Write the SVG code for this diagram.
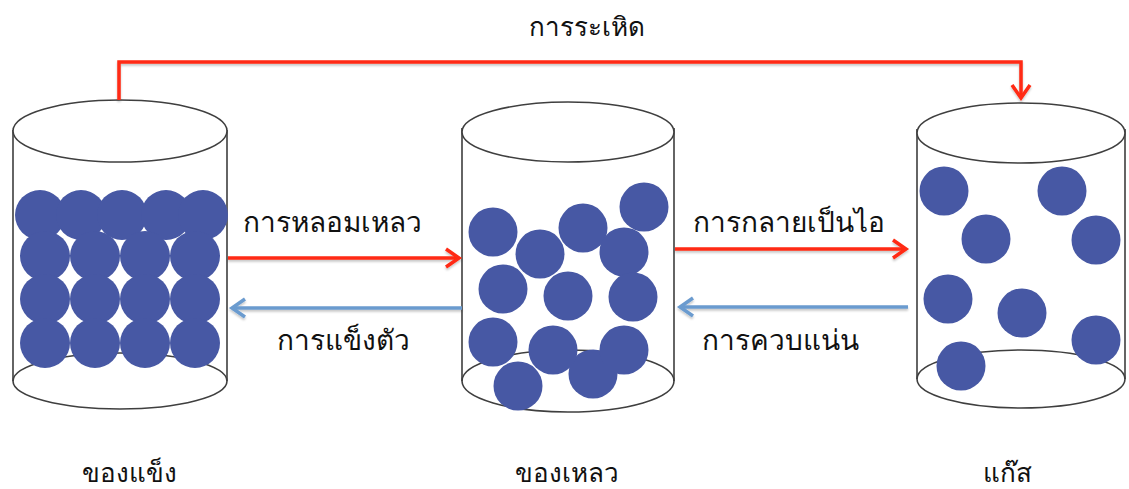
<svg xmlns="http://www.w3.org/2000/svg" width="1129" height="489" viewBox="0 0 1129 489">
  <style>
    .wall { fill: none; stroke: #3f3f3f; stroke-width: 1.6; }
    .rim { fill: #ffffff; stroke: #3f3f3f; stroke-width: 1.6; }
    .ball { fill: #4758a4; }
    .heat { fill: none; stroke: #ff2a12; stroke-width: 3.5; }
    .cool { fill: none; stroke: #6b9bcf; stroke-width: 3.5; }
    .label { font-family: "Noto Sans", "DejaVu Sans", sans-serif; fill: #111111; }
    .state { font-size: 26px; text-anchor: middle; }
    .proc { font-size: 28px; }
  </style>
  <defs>
    <marker id="head-red" markerUnits="userSpaceOnUse" markerWidth="22" markerHeight="22" refX="15" refY="11" orient="auto">
      <path d="M2,2 L15,11 L2,20" fill="none" stroke="#ff2a12" stroke-width="3.5" stroke-linejoin="miter"/>
    </marker>
    <marker id="head-blue" markerUnits="userSpaceOnUse" markerWidth="22" markerHeight="22" refX="15" refY="11" orient="auto">
      <path d="M2,2 L15,11 L2,20" fill="none" stroke="#6b9bcf" stroke-width="3.5" stroke-linejoin="miter"/>
    </marker>
    <filter id="shade" filterUnits="userSpaceOnUse" x="0" y="0" width="1129" height="489">
      <feDropShadow dx="0" dy="2" stdDeviation="1.2" flood-color="#000000" flood-opacity="0.22"/>
    </filter>
  </defs>

  <!-- solid -->
  <g id="solid">
    <ellipse class="rim" cx="120" cy="381" rx="107" ry="28"/>
    <path class="wall" d="M13,130 V381 M227,130 V381"/>
    <ellipse class="rim" cx="120" cy="131" rx="107" ry="31"/>
    <g>
      <circle class="ball" cx="40" cy="215" r="25"/>
      <circle class="ball" cx="81" cy="215" r="25"/>
      <circle class="ball" cx="122" cy="215" r="25"/>
      <circle class="ball" cx="166" cy="215" r="25"/>
      <circle class="ball" cx="203" cy="215" r="25"/>
      <circle class="ball" cx="45" cy="256" r="25"/>
      <circle class="ball" cx="95" cy="256" r="25"/>
      <circle class="ball" cx="145" cy="256" r="25"/>
      <circle class="ball" cx="195" cy="256" r="25"/>
      <circle class="ball" cx="45" cy="299" r="25"/>
      <circle class="ball" cx="95" cy="299" r="25"/>
      <circle class="ball" cx="145" cy="299" r="25"/>
      <circle class="ball" cx="195" cy="299" r="25"/>
      <circle class="ball" cx="45" cy="343" r="25"/>
      <circle class="ball" cx="95" cy="343" r="25"/>
      <circle class="ball" cx="145" cy="343" r="25"/>
      <circle class="ball" cx="195" cy="343" r="25"/>
    </g>
    <text class="label state" x="129" y="482">ของแข็ง</text>
  </g>

  <!-- liquid -->
  <g id="liquid">
    <ellipse class="rim" cx="568" cy="381" rx="106" ry="31"/>
    <path class="wall" d="M462,128 V381 M674,128 V381"/>
    <ellipse class="rim" cx="568" cy="132" rx="106" ry="30"/>
    <g>
      <circle class="ball" cx="493" cy="232" r="24.5"/>
      <circle class="ball" cx="540" cy="254" r="24.5"/>
      <circle class="ball" cx="583" cy="228" r="24.5"/>
      <circle class="ball" cx="644" cy="207" r="24.5"/>
      <circle class="ball" cx="624" cy="252" r="24.5"/>
      <circle class="ball" cx="503" cy="289" r="24.5"/>
      <circle class="ball" cx="568" cy="296" r="24.5"/>
      <circle class="ball" cx="633" cy="297" r="24.5"/>
      <circle class="ball" cx="493" cy="342" r="24.5"/>
      <circle class="ball" cx="593" cy="374" r="24.5"/>
      <circle class="ball" cx="553" cy="350" r="24.5"/>
      <circle class="ball" cx="624" cy="350" r="24.5"/>
      <circle class="ball" cx="518" cy="386" r="24.5"/>
    </g>
    <text class="label state" x="567" y="482">ของเหลว</text>
  </g>

  <!-- gas -->
  <g id="gas">
    <ellipse class="rim" cx="1021" cy="379" rx="104" ry="29"/>
    <path class="wall" d="M917,129 V379 M1125,129 V379"/>
    <ellipse class="rim" cx="1021" cy="133" rx="104" ry="30"/>
    <g>
      <circle class="ball" cx="944" cy="191" r="24.5"/>
      <circle class="ball" cx="1062" cy="191" r="24.5"/>
      <circle class="ball" cx="986" cy="239" r="24.5"/>
      <circle class="ball" cx="1096" cy="240" r="24.5"/>
      <circle class="ball" cx="948" cy="299" r="24.5"/>
      <circle class="ball" cx="1022" cy="313" r="24.5"/>
      <circle class="ball" cx="1096" cy="340" r="24.5"/>
      <circle class="ball" cx="961" cy="366" r="24.5"/>
    </g>
    <text class="label state" x="1007" y="482">แก๊ส</text>
  </g>

  <!-- phase-change arrows -->
  <g id="connectors">
    <path class="heat" filter="url(#shade)" d="M119,100 V62 H1021 V98" marker-end="url(#head-red)"/>
    <path class="heat" filter="url(#shade)" d="M228,258 H459" marker-end="url(#head-red)"/>
    <path class="cool" filter="url(#shade)" d="M462,308 H232" marker-end="url(#head-blue)"/>
    <path class="heat" filter="url(#shade)" d="M675,249 H906" marker-end="url(#head-red)"/>
    <path class="cool" filter="url(#shade)" d="M908,307 H680" marker-end="url(#head-blue)"/>
  </g>

  <g id="process-labels">
    <text class="label state" x="587" y="36">การระเหิด</text>
    <text class="label proc" x="243" y="232">การหลอมเหลว</text>
    <text class="label proc" x="277" y="350">การแข็งตัว</text>
    <text class="label proc" x="693" y="232">การกลายเป็นไอ</text>
    <text class="label proc" x="702" y="350">การควบแน่น</text>
  </g>
</svg>
